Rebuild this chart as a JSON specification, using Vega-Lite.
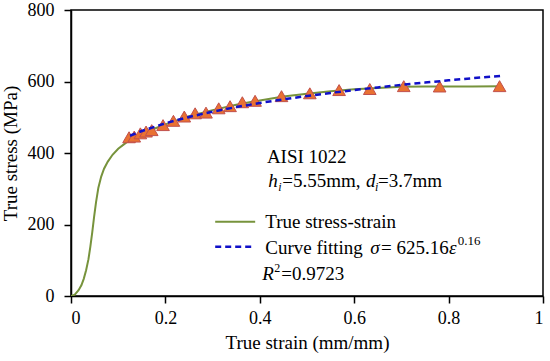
{
  "$schema": "https://vega.github.io/schema/vega-lite/v6.json",
  "autosize": "none",
  "width": 472,
  "height": 286,
  "padding": {"left": 71, "top": 10, "right": 7, "bottom": 65},
  "background": "white",
  "config": {
    "view": {"stroke": "black", "strokeWidth": 1.5},
    "font": "Liberation Serif, serif",
    "style": {
      "guide-label": {"font": "Liberation Serif, serif", "fontSize": 18, "fill": "black"},
      "guide-title": {"font": "Liberation Serif, serif", "fontSize": 19, "fontWeight": "normal", "fill": "black"}
    },
    "axis": {
      "grid": false,
      "domainColor": "black",
      "domainWidth": 1.5,
      "tickColor": "black",
      "tickWidth": 1.5,
      "tickSize": 7,
      "labelFont": "Liberation Serif, serif",
      "titleFont": "Liberation Serif, serif",
      "labelColor": "black",
      "titleColor": "black"
    },
    "text": {"font": "Liberation Serif", "fontSize": 19, "color": "black", "align": "left", "baseline": "alphabetic"}
  },
  "datasets": {
    "one": [{"k": 1}],
    "curve": [
      {"strain": 0.0, "stress": 0}, {"strain": 0.008, "stress": 4}, {"strain": 0.016, "stress": 16},
      {"strain": 0.022, "stress": 30}, {"strain": 0.027, "stress": 48}, {"strain": 0.032, "stress": 72},
      {"strain": 0.037, "stress": 103}, {"strain": 0.041, "stress": 138}, {"strain": 0.045, "stress": 178},
      {"strain": 0.049, "stress": 222}, {"strain": 0.053, "stress": 262}, {"strain": 0.058, "stress": 303},
      {"strain": 0.064, "stress": 334}, {"strain": 0.07, "stress": 356}, {"strain": 0.078, "stress": 376},
      {"strain": 0.088, "stress": 395}, {"strain": 0.1, "stress": 412}, {"strain": 0.112, "stress": 424},
      {"strain": 0.125, "stress": 437}, {"strain": 0.15, "stress": 454}, {"strain": 0.175, "stress": 467},
      {"strain": 0.2, "stress": 480}, {"strain": 0.25, "stress": 503}, {"strain": 0.3, "stress": 520},
      {"strain": 0.35, "stress": 535}, {"strain": 0.4, "stress": 547}, {"strain": 0.45, "stress": 558},
      {"strain": 0.5, "stress": 566}, {"strain": 0.55, "stress": 573}, {"strain": 0.6, "stress": 578},
      {"strain": 0.65, "stress": 582}, {"strain": 0.7, "stress": 585}, {"strain": 0.75, "stress": 586},
      {"strain": 0.8, "stress": 586}, {"strain": 0.85, "stress": 586}, {"strain": 0.91, "stress": 587}
    ],
    "points": [
      {"strain": 0.123, "stress": 444}, {"strain": 0.134, "stress": 446}, {"strain": 0.147, "stress": 455},
      {"strain": 0.159, "stress": 460}, {"strain": 0.171, "stress": 464}, {"strain": 0.195, "stress": 478},
      {"strain": 0.217, "stress": 490}, {"strain": 0.24, "stress": 502}, {"strain": 0.263, "stress": 511},
      {"strain": 0.286, "stress": 513}, {"strain": 0.313, "stress": 525}, {"strain": 0.337, "stress": 531},
      {"strain": 0.363, "stress": 542}, {"strain": 0.39, "stress": 546}, {"strain": 0.446, "stress": 559},
      {"strain": 0.506, "stress": 567}, {"strain": 0.568, "stress": 576}, {"strain": 0.633, "stress": 579},
      {"strain": 0.705, "stress": 587}, {"strain": 0.781, "stress": 586}, {"strain": 0.908, "stress": 587}
    ],
    "fit": [
      {"strain": 0.125, "stress": 448.3}, {"strain": 0.15, "stress": 461.5}, {"strain": 0.2, "stress": 483.3},
      {"strain": 0.25, "stress": 500.8}, {"strain": 0.3, "stress": 515.7}, {"strain": 0.35, "stress": 528.5},
      {"strain": 0.4, "stress": 539.9}, {"strain": 0.45, "stress": 550.1}, {"strain": 0.5, "stress": 559.5},
      {"strain": 0.55, "stress": 568.1}, {"strain": 0.6, "stress": 576.1}, {"strain": 0.65, "stress": 583.5},
      {"strain": 0.7, "stress": 590.5}, {"strain": 0.75, "stress": 597.0}, {"strain": 0.8, "stress": 603.2},
      {"strain": 0.85, "stress": 609.1}, {"strain": 0.91, "stress": 615.8}
    ],
    "legGreen": [{"strain": 0.3055, "stress": 208}, {"strain": 0.3902, "stress": 208}],
    "legBlue": [{"strain": 0.3055, "stress": 138}, {"strain": 0.3902, "stress": 138}]
  },
  "layer": [
    {
      "data": {"name": "curve"},
      "mark": {"type": "line", "color": "#77933C", "strokeWidth": 2, "clip": true},
      "encoding": {
        "x": {"field": "strain", "type": "quantitative",
              "scale": {"domain": [0, 1], "nice": false},
              "axis": {"values": [0, 0.2, 0.4, 0.6, 0.8, 1], "format": "~g", "title": "True strain (mm/mm)",
                       "labelFont": "Liberation Serif, serif", "labelFontSize": 18, "titleFont": "Liberation Serif, serif", "titleFontSize": 19, "titleFontWeight": "normal",
                       "labelPadding": 6, "titlePadding": 6}},
        "y": {"field": "stress", "type": "quantitative",
              "scale": {"domain": [0, 800], "nice": false},
              "axis": {"values": [0, 200, 400, 600, 800], "title": "True stress (MPa)",
                       "labelFont": "Liberation Serif, serif", "labelFontSize": 18, "titleFont": "Liberation Serif, serif", "titleFontSize": 19, "titleFontWeight": "normal",
                       "labelPadding": 10, "titlePadding": 7}}
      }
    },
    {
      "data": {"name": "points"},
      "mark": {"type": "point", "shape": "triangle-up", "filled": true, "size": 160, "fill": "#E97132", "stroke": "#C0504D", "strokeWidth": 1, "opacity": 1},
      "encoding": {
        "x": {"field": "strain", "type": "quantitative"},
        "y": {"field": "stress", "type": "quantitative"}
      }
    },
    {
      "data": {"name": "fit"},
      "mark": {"type": "line", "color": "#1010C8", "strokeWidth": 2.5, "strokeDash": [6, 4]},
      "encoding": {
        "x": {"field": "strain", "type": "quantitative"},
        "y": {"field": "stress", "type": "quantitative"}
      }
    },
    {
      "data": {"name": "legGreen"},
      "mark": {"type": "line", "color": "#77933C", "strokeWidth": 2},
      "encoding": {
        "x": {"field": "strain", "type": "quantitative"},
        "y": {"field": "stress", "type": "quantitative"}
      }
    },
    {
      "data": {"name": "legBlue"},
      "mark": {"type": "line", "color": "#1010C8", "strokeWidth": 2.5, "strokeDash": [6, 4]},
      "encoding": {
        "x": {"field": "strain", "type": "quantitative"},
        "y": {"field": "stress", "type": "quantitative"}
      }
    },
    {
      "data": {"name": "one"},
      "layer": [
        {"mark": {"type": "text", "text": "AISI 1022"}, "encoding": {"x": {"datum": 0.415}, "y": {"datum": 373}}},
        {"mark": {"type": "text", "text": "h", "fontStyle": "italic"}, "encoding": {"x": {"datum": 0.4177}, "y": {"datum": 306}}},
        {"mark": {"type": "text", "text": "i", "fontStyle": "italic", "fontSize": 12}, "encoding": {"x": {"datum": 0.4389}, "y": {"datum": 295}}},
        {"mark": {"type": "text", "text": "=5.55mm,"}, "encoding": {"x": {"datum": 0.4474}, "y": {"datum": 306}}},
        {"mark": {"type": "text", "text": "d", "fontStyle": "italic"}, "encoding": {"x": {"datum": 0.6252}, "y": {"datum": 306}}},
        {"mark": {"type": "text", "text": "i", "fontStyle": "italic", "fontSize": 12}, "encoding": {"x": {"datum": 0.6443}, "y": {"datum": 295}}},
        {"mark": {"type": "text", "text": "=3.7mm"}, "encoding": {"x": {"datum": 0.6506}, "y": {"datum": 306}}},
        {"mark": {"type": "text", "text": "True stress-strain"}, "encoding": {"x": {"datum": 0.4115}, "y": {"datum": 189}}},
        {"mark": {"type": "text", "text": "Curve fitting"}, "encoding": {"x": {"datum": 0.4115}, "y": {"datum": 118}}},
        {"mark": {"type": "text", "text": "σ", "fontStyle": "italic"}, "encoding": {"x": {"datum": 0.634}, "y": {"datum": 118}}},
        {"mark": {"type": "text", "text": "= 625.16"}, "encoding": {"x": {"datum": 0.657}, "y": {"datum": 118}}},
        {"mark": {"type": "text", "text": "ε", "fontStyle": "italic"}, "encoding": {"x": {"datum": 0.8009}, "y": {"datum": 118}}},
        {"mark": {"type": "text", "text": "0.16", "fontSize": 13}, "encoding": {"x": {"datum": 0.8195}, "y": {"datum": 142}}},
        {"mark": {"type": "text", "text": "R", "fontStyle": "italic"}, "encoding": {"x": {"datum": 0.4052}, "y": {"datum": 45}}},
        {"mark": {"type": "text", "text": "2", "fontSize": 12}, "encoding": {"x": {"datum": 0.4306}, "y": {"datum": 66}}},
        {"mark": {"type": "text", "text": "=0.9723"}, "encoding": {"x": {"datum": 0.4455}, "y": {"datum": 45}}}
      ]
    }
  ]
}
